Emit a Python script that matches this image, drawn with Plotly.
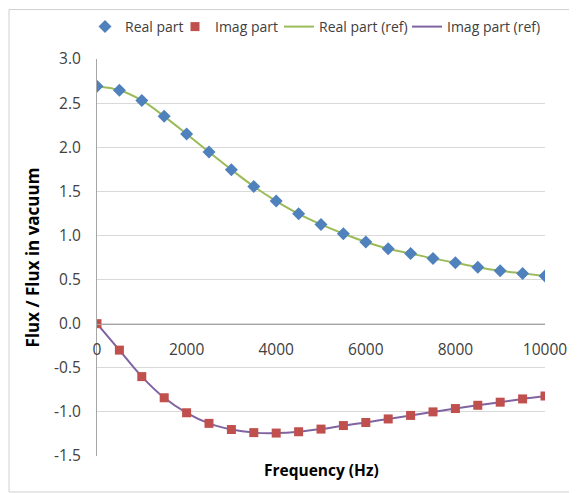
import plotly.graph_objects as go

freq = [0, 500, 1000, 1500, 2000, 2500, 3000, 3500, 4000, 4500, 5000,
        5500, 6000, 6500, 7000, 7500, 8000, 8500, 9000, 9500, 10000]
real_part = [2.69, 2.645, 2.53, 2.35, 2.15, 1.945, 1.745, 1.555, 1.39, 1.245, 1.125,
             1.02, 0.925, 0.85, 0.795, 0.74, 0.69, 0.64, 0.60, 0.57, 0.54]
imag_part = [0.0, -0.30, -0.60, -0.84, -1.01, -1.13, -1.20, -1.235, -1.24, -1.225, -1.195,
             -1.155, -1.12, -1.08, -1.04, -1.0, -0.962, -0.925, -0.89, -0.853, -0.82]
x_ticks = [0, 2000, 4000, 6000, 8000, 10000]
y_ticks = [-1.5, -1.0, -0.5, 0.0, 0.5, 1.0, 1.5, 2.0, 2.5, 3.0]

FONT = "Open Sans"
# page body has an 8px default margin, so the figure is drawn 8px smaller
W, H = 569, 485
ML, MR, MT, MB = 89, 32, 51, 37

fig = go.Figure()
fig.add_trace(go.Scatter(x=freq, y=real_part, mode="lines", name="Real part (ref)",
                         line=dict(color="#9BBB59", width=2, shape="spline"), legend="legend3"))
fig.add_trace(go.Scatter(x=freq, y=imag_part, mode="lines", name="Imag part (ref)",
                         line=dict(color="#8064A2", width=2, shape="spline"), legend="legend4"))
fig.add_trace(go.Scatter(x=freq, y=real_part, mode="markers", name="Real part",
                         marker=dict(symbol="diamond", size=10, color="#4F81BD"), legend="legend"))
fig.add_trace(go.Scatter(x=freq, y=imag_part, mode="markers", name="Imag part",
                         marker=dict(symbol="square", size=9, color="#C0504D"), legend="legend2"))

yr = [-1.5, 3.0]


def leg(xpx):
    return dict(orientation="h", xref="container", yref="container",
                x=xpx / W, xanchor="left", y=1 - 19 / H, yanchor="middle",
                font=dict(size=14, color="#404040"), itemwidth=30,
                bgcolor="rgba(0,0,0,0)")


fig.update_layout(
    width=W, height=H,
    margin=dict(l=ML, r=MR, t=MT, b=MB, autoexpand=False),
    paper_bgcolor="white", plot_bgcolor="white",
    font=dict(family=FONT, size=15, color="#404040"),
    showlegend=True,
    legend=leg(77), legend2=leg(167), legend3=leg(271), legend4=leg(399),
    xaxis=dict(range=[0, 10000], tickvals=x_ticks, ticktext=[str(v) for v in x_ticks],
               showgrid=False, zeroline=False, showline=True, linecolor="#A6A6A6",
               linewidth=1, anchor="free", position=(0 - yr[0]) / (yr[1] - yr[0]),
               ticks="", ticklabelstandoff=12, tickfont=dict(size=15.5), automargin=False),
    yaxis=dict(range=yr, tickvals=y_ticks, ticktext=[f"{v:.1f}" for v in y_ticks],
               showgrid=True, gridcolor="#D9D9D9", gridwidth=1, zeroline=False,
               showline=True, linecolor="#A6A6A6", linewidth=1, ticks="",
               ticklabelstandoff=12, tickfont=dict(size=15.5), automargin=False,
               title=dict(text="<b>Flux / Flux in vacuum</b>", standoff=10,
                          font=dict(size=17, color="#000000"))),
)

fig.add_annotation(text="<b>Frequency (Hz)</b>", xref="paper", yref="paper",
                   x=0.5, y=0, yanchor="top", yshift=-1, showarrow=False,
                   font=dict(size=15.5, color="#000000"))

pw = W - ML - MR
ph = H - MT - MB
fig.add_shape(type="rect", xref="paper", yref="paper", layer="above",
              x0=(1 - ML) / pw, x1=(567.5 - ML) / pw,
              y0=(H - MB - 484) / ph, y1=(H - MB - 1.5) / ph,
              line=dict(color="#D0D0D0", width=1))

fig.write_html("out.html")
